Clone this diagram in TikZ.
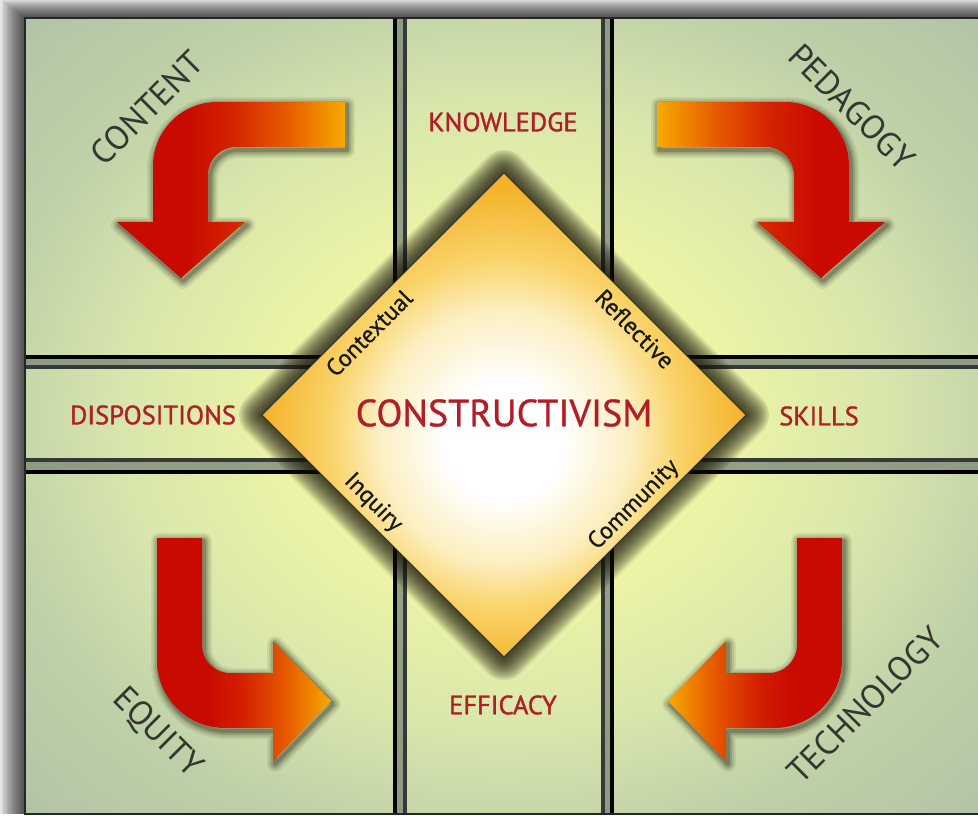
\documentclass[tikz,border=0pt]{standalone}
\usepackage{fontspec}
\setmainfont{PT Sans}
\newfontfamily\labfont{PT Sans}[FakeBold=1.3]
\newfontfamily\sidefont{PT Sans}[FakeBold=0.8]
\definecolor{bgA}{HTML}{F2F7A8}
\definecolor{bgB}{HTML}{ECF3A6}
\definecolor{bgC}{HTML}{D8E6AC}
\definecolor{bgD}{HTML}{BFD1A8}
\definecolor{bgE}{HTML}{B2C4A6}
\definecolor{dcream}{HTML}{FCEFC2}
\definecolor{dlight}{HTML}{F9D46A}
\definecolor{dorange}{HTML}{F4B22A}
\definecolor{ared}{HTML}{C80A00}
\definecolor{ared2}{HTML}{D42200}
\definecolor{amid}{HTML}{E65A00}
\definecolor{aorange}{HTML}{F7AA00}
\definecolor{labred}{HTML}{B01E28}
\definecolor{quadgray}{HTML}{35362F}
\definecolor{bandgray}{HTML}{7F8C7A}
\definecolor{glowc}{HTML}{141005}
\pgfdeclareradialshading{bgshade}{\pgfpoint{0bp}{0bp}}{color(0bp)=(bgA); color(12bp)=(bgB); color(20bp)=(bgC); color(27bp)=(bgD); color(35bp)=(bgE); color(50bp)=(bgE)}
\pgfdeclareradialshading{dshade}{\pgfpoint{0bp}{-3bp}}{color(0bp)=(white); color(6bp)=(white); color(13bp)=(dcream); color(18bp)=(dlight); color(25bp)=(dorange); color(50bp)=(dorange)}
\pgfdeclarehorizontalshading{arrRO}{100bp}{color(0bp)=(ared); color(40bp)=(ared); color(50bp)=(ared2); color(62bp)=(amid); color(75bp)=(aorange); color(100bp)=(aorange)}
\pgfdeclarehorizontalshading{arrOR}{100bp}{color(0bp)=(aorange); color(25bp)=(aorange); color(38bp)=(amid); color(50bp)=(ared2); color(60bp)=(ared); color(100bp)=(ared)}
\newcommand\DiamondPath{(504,173) -- (746,415) -- (504,657) -- (262,415) -- cycle}
\newcommand\ArrContent{(345,102) -- (217,102) arc[start angle=270,end angle=180,radius=64] -- (153,222) -- (117,222) -- (181,278) -- (245,222) -- (208,222) -- (208,175) arc[start angle=180,end angle=270,radius=28] -- (345,147) -- cycle}
\newcommand\ArrPedagogy{(657,102) -- (785,102) arc[start angle=270,end angle=360,radius=64] -- (849,222) -- (885,222) -- (821,278) -- (757,222) -- (794,222) -- (794,175) arc[start angle=0,end angle=-90,radius=28] -- (657,147) -- cycle}
\newcommand\ArrEquity{(157,538) -- (157,660) arc[start angle=180,end angle=90,radius=68] -- (273,728) -- (273,761) -- (331,701) -- (273,641) -- (273,673) -- (230,673) arc[start angle=90,end angle=180,radius=28] -- (202,538) -- cycle}
\newcommand\ArrTechnology{(842,538) -- (842,660) arc[start angle=0,end angle=90,radius=68] -- (726,728) -- (726,761) -- (668,701) -- (726,641) -- (726,673) -- (769,673) arc[start angle=90,end angle=0,radius=28] -- (797,538) -- cycle}
\tikzset{
  redlab/.style={text=labred, font=\labfont\fontsize{26.5}{26.5}\selectfont, inner sep=0pt},
  quadlab/.style={text=quadgray, font=\fontsize{34}{34}\selectfont, inner sep=0pt},
  sidelab/.style={text=black!90, font=\sidefont\fontsize{24}{24}\selectfont, inner sep=0pt},
  biglab/.style={text=labred, font=\sidefont\fontsize{38}{38}\selectfont, inner sep=0pt},
  outerline/.style={line width=4.5pt, black},
  innerline/.style={line width=3.5pt, black!78},
  arrglow/.style={glowc, line join=round},
}
\begin{document}
\begin{tikzpicture}[x=1pt,y=-1pt]
\useasboundingbox (0,0) rectangle (978,817);
\fill[white] (0,0) rectangle (978,817);
% frame shadow
\foreach \i in {1,...,20} {\fill[black,opacity=0.05] ({25-1.3*\i},{18-\i}) rectangle (990,814);}
% frame
\shade[shading=bgshade] (25,18) rectangle (983,814);
% grid bands
\fill[bandgray,opacity=0.8] (25,359) rectangle (983,365);
\fill[bandgray,opacity=0.8] (25,462) rectangle (983,470);
\fill[bandgray,opacity=0.8] (397,18) rectangle (403,814);
\fill[bandgray,opacity=0.8] (605,18) rectangle (610,814);
% grid lines
\draw[outerline] (25,357) -- (983,357);
\draw[innerline] (25,367) -- (983,367);
\draw[innerline] (25,460) -- (983,460);
\draw[outerline] (25,472) -- (983,472);
\draw[outerline] (395,18) -- (395,814);
\draw[innerline] (405,18) -- (405,814);
\draw[innerline] (603,18) -- (603,814);
\draw[outerline] (612,18) -- (612,814);
\draw[line width=2.5pt, black!85] (25,18) rectangle (983,814);
% diamond glow
\foreach \w in {46,42,...,2} {\draw[glowc, opacity=0.11, line width=\w pt, line join=round] \DiamondPath;}
\shadedraw[shading=dshade, draw=black!80, line width=0.8pt] \DiamondPath;
% arrow glows
\begin{scope}[shift={(2,3)}]
\foreach \w/\o in {16/0.07,12/0.1,8/0.14,4/0.22} {
  \draw[arrglow, line width=\w pt, opacity=\o] \ArrContent;
  \draw[arrglow, line width=\w pt, opacity=\o] \ArrPedagogy;
  \draw[arrglow, line width=\w pt, opacity=\o] \ArrEquity;
  \draw[arrglow, line width=\w pt, opacity=\o] \ArrTechnology;
}
\end{scope}
\shade[shading=arrRO] \ArrContent;
\shade[shading=arrOR] \ArrPedagogy;
\shade[shading=arrRO] \ArrEquity;
\shade[shading=arrOR] \ArrTechnology;
% labels
\node[biglab] (constr) at (504,413) {CONSTRUCTIVISM};
\node[redlab] (know) at (503,122) {KNOWLEDGE};
\node[redlab] (disp) at (153,415) {DISPOSITIONS};
\node[redlab] (skills) at (819,416) {SKILLS};
\node[redlab] (eff) at (503,705) {EFFICACY};
\node[quadlab, rotate=45] (content) at (147,108) {CONTENT};
\node[quadlab, rotate=-45] (ped) at (852,107) {PEDAGOGY};
\node[quadlab, rotate=-45] (equity) at (157,733) {EQUITY};
\node[quadlab, rotate=45] (tech) at (865,705) {TECHNOLOGY};
\node[sidelab, rotate=45] (ctx) at (369,333) {Contextual};
\node[sidelab, rotate=-45] (refl) at (635,329) {Reflective};
\node[sidelab, rotate=-45] (inq) at (373,503) {Inquiry};
\node[sidelab, rotate=45] (comm) at (634,505) {Community};
\end{tikzpicture}
\end{document}
